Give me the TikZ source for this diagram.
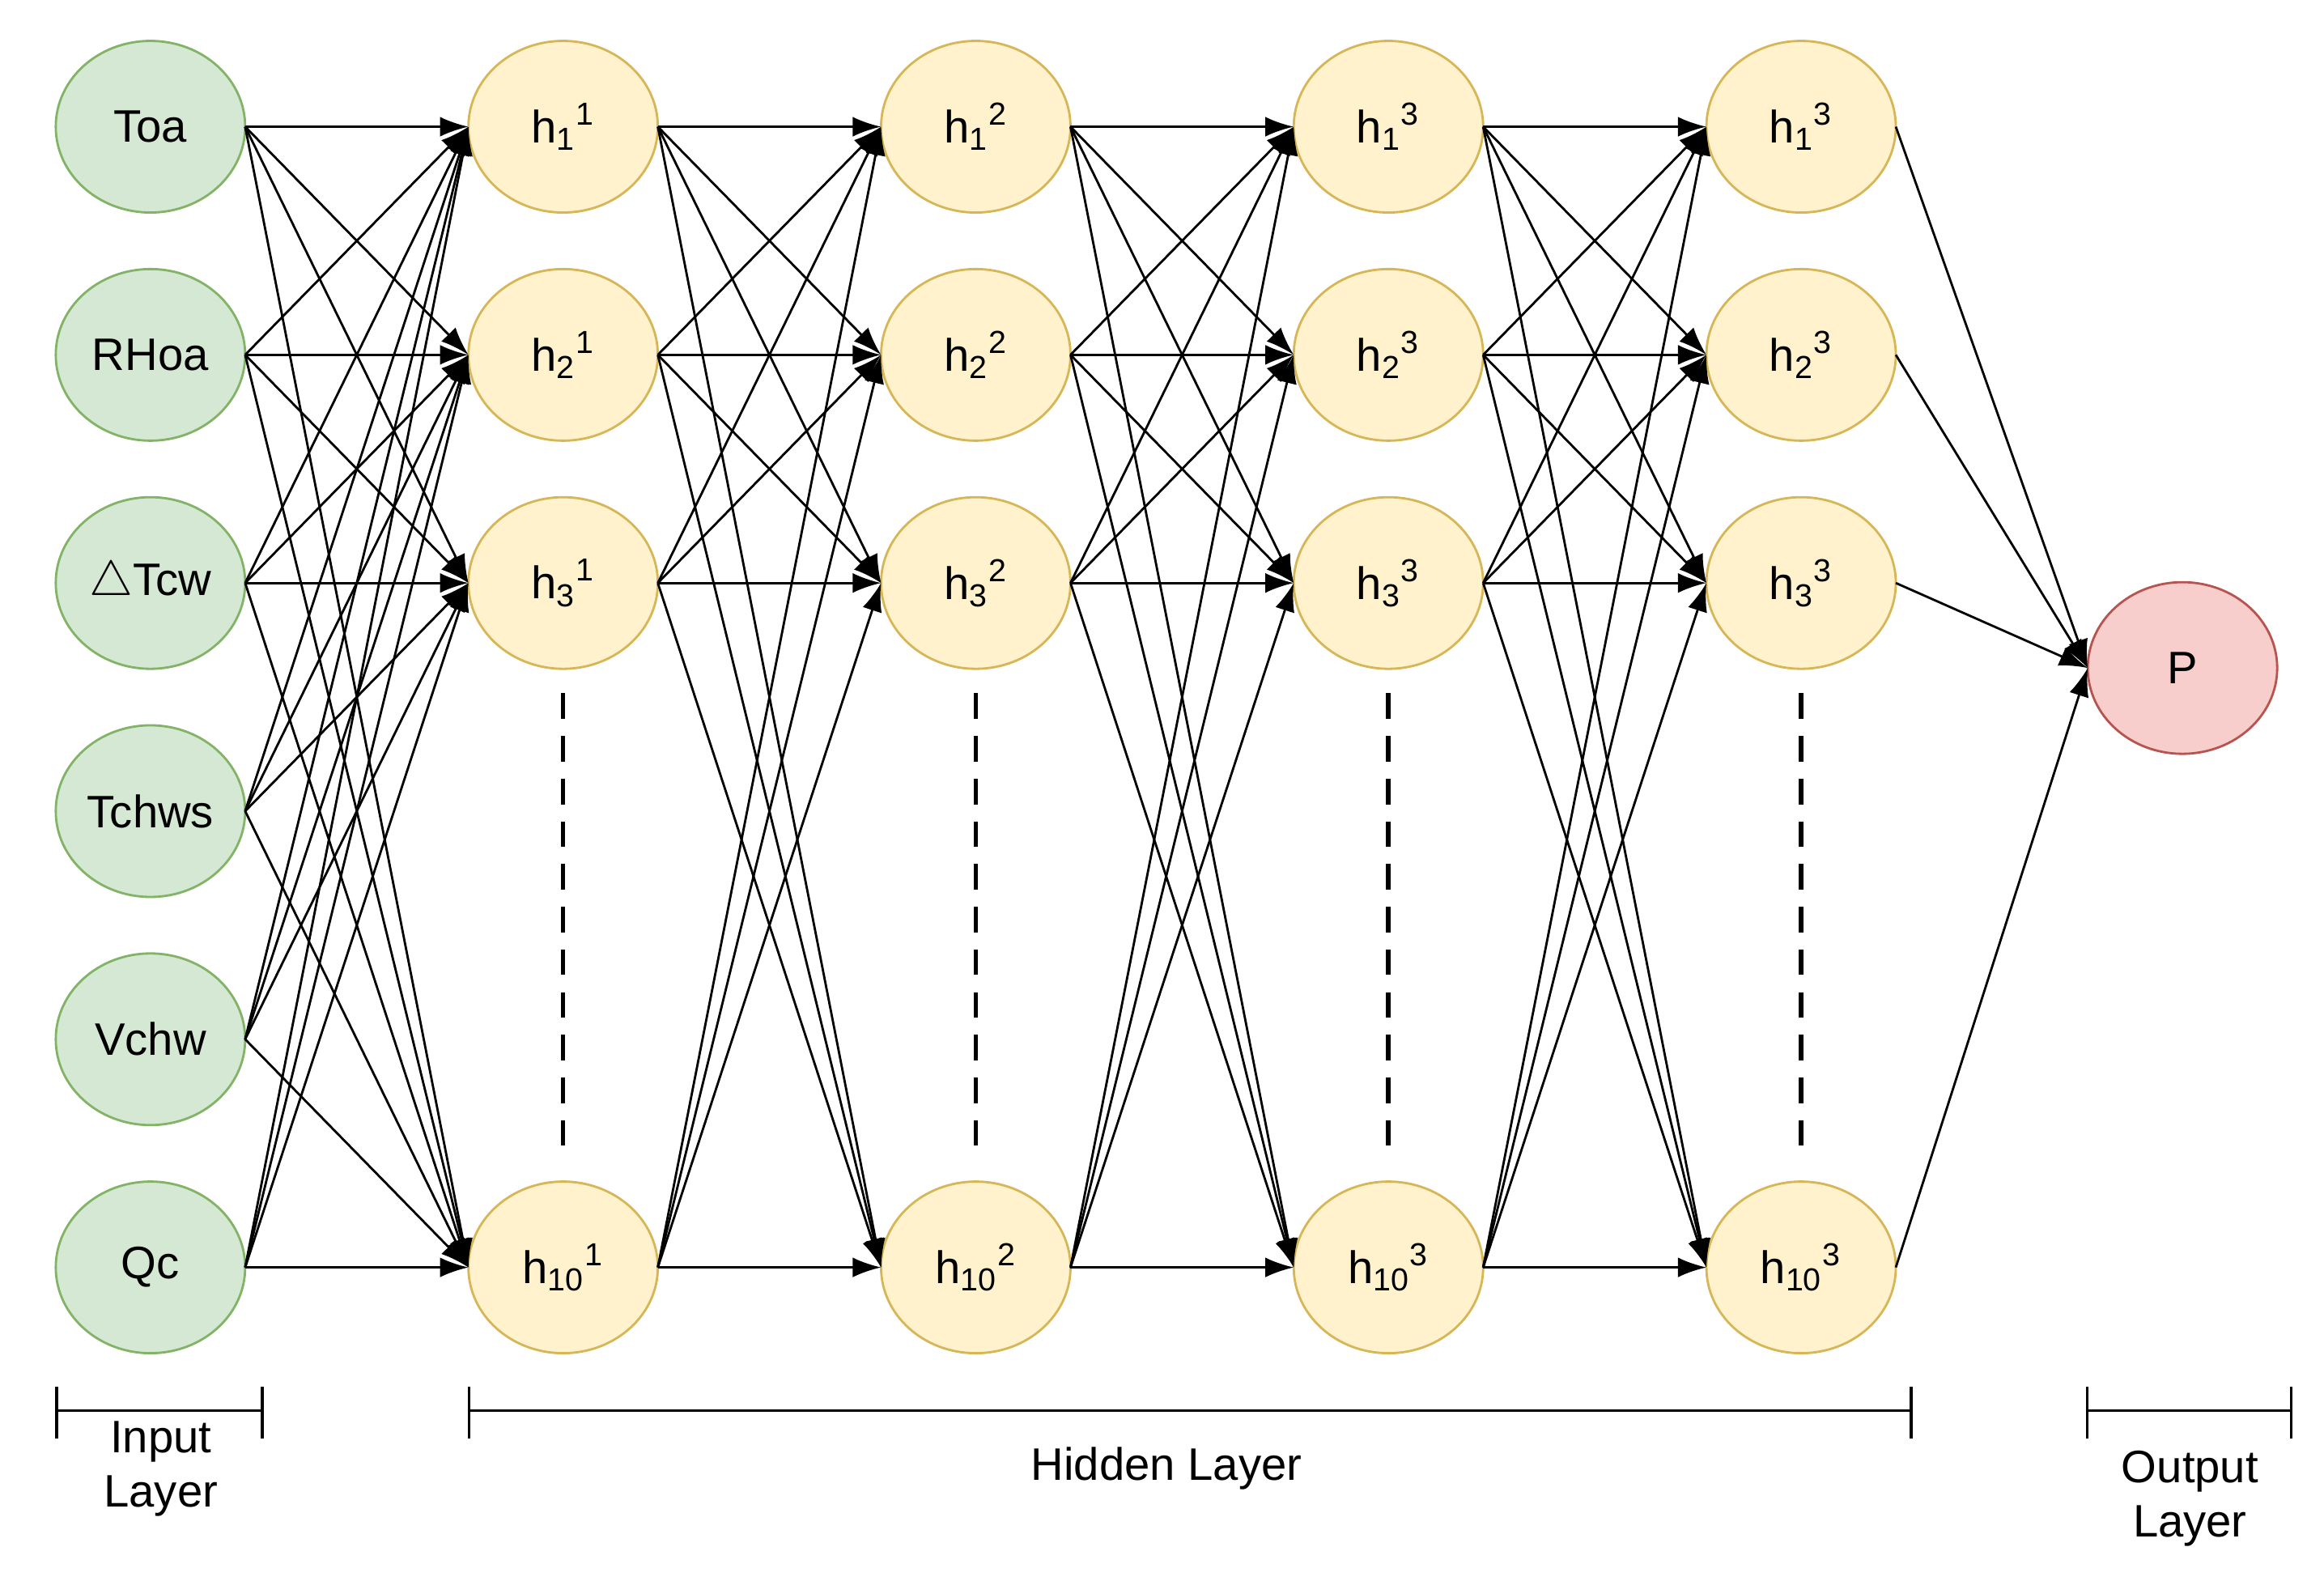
\documentclass[tikz,border=0pt]{standalone}
\usepackage{fontspec}
\setmainfont{Liberation Sans}
\usetikzlibrary{arrows.meta}
\definecolor{gfill}{HTML}{D5E8D4}\definecolor{gdraw}{HTML}{82B366}
\definecolor{yfill}{HTML}{FFF2CC}\definecolor{ydraw}{HTML}{D6B656}
\definecolor{rfill}{HTML}{F8CECC}\definecolor{rdraw}{HTML}{B85450}
\newcommand{\hh}[2]{h\textsubscript{#1}\textsuperscript{#2}}
\begin{document}
\begin{tikzpicture}[x=0.018404cm,y=-0.018415cm,
  neuron/.style={ellipse,minimum width=2.34cm,minimum height=2.12cm,inner sep=0pt,outer sep=0pt,line width=0.8pt,font=\fontsize{16}{18}\selectfont},
  inp/.style={neuron,fill=gfill,draw=gdraw},
  hid/.style={neuron,fill=yfill,draw=ydraw},
  outp/.style={neuron,fill=rfill,draw=rdraw},
  conn/.style={-{Latex[length=10pt,width=7pt]},line width=0.8pt},
  brk/.style={line width=1pt},
  lab/.style={font=\fontsize{16}{19}\selectfont,align=center}]
\usetikzlibrary{shapes.geometric}
\useasboundingbox (0,0) rectangle (1560,1060);
\foreach \n/\t/\y in {1/Toa/85,2/RHoa/238,3/{$\triangle$Tcw}/391,4/Tchws/544,5/Vchw/697,6/Qc/850}
  \node[inp] (i\n) at (101,\y) {\t};
\foreach \c/\x/\s in {1/378/1,2/655/2,3/932/3,4/1209/3}{
  \foreach \r/\y in {1/85,2/238,3/391,10/850}
    \node[hid] (h\c-\r) at (\x,\y) {\hh{\r}{\s}};
  \coordinate (d\c a) at (\x,465); \coordinate (d\c b) at (\x,775);
  \draw[dash pattern=on 9pt off 6pt,line width=1.6pt] (d\c a) -- (d\c b);
}
\node[outp] (p) at (1465,448) {P};
\foreach \i in {1,...,6}\foreach \r in {1,2,3,10}
  \draw[conn] (i\i.east) -- (h1-\r.west);
\foreach \c/\d in {1/2,2/3,3/4}\foreach \a in {1,2,3,10}\foreach \b in {1,2,3,10}
  \draw[conn] (h\c-\a.east) -- (h\d-\b.west);
\foreach \r in {1,2,3,10}
  \draw[conn] (h4-\r.east) -- (p.west);
% brackets
\foreach \n/\xa/\xb in {in/38/176,hd/315/1283,ou/1401/1538}{
  \coordinate (\n a) at (\xa,946); \coordinate (\n b) at (\xb,946);
  \coordinate (\n at) at (\xa,930); \coordinate (\n ab) at (\xa,965);
  \coordinate (\n bt) at (\xb,930); \coordinate (\n bb) at (\xb,965);
  \draw[brk] (\n a) -- (\n b);
  \draw[brk] (\n at) -- (\n ab);
  \draw[brk] (\n bt) -- (\n bb);
}
\node[lab] (l1) at (108,985) {Input\\Layer};
\node[lab] (l2) at (783,985) {Hidden Layer};
\node[lab] (l3) at (1470,1005) {Output\\Layer};
\end{tikzpicture}
\end{document}
